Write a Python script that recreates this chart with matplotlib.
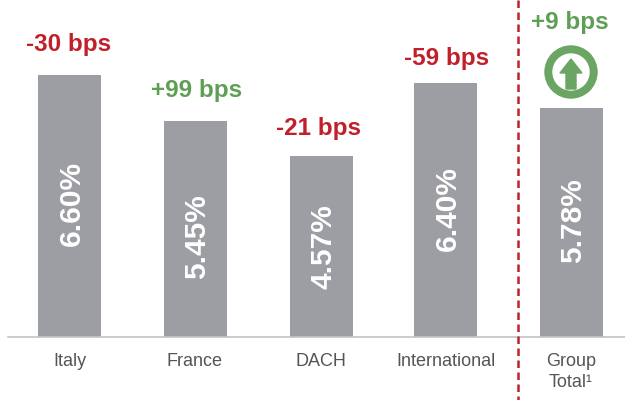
import matplotlib
matplotlib.use('Agg')
import matplotlib.pyplot as plt
from matplotlib.patches import Circle, Polygon

plt.rcParams['font.family'] = ['Liberation Sans', 'DejaVu Sans']

labels = ['Italy', 'France', 'DACH', 'International', 'Group\nTotal¹']
values = [6.60, 5.45, 4.57, 6.40, 5.78]
changes = ['-30 bps', '+99 bps', '-21 bps', '-59 bps', '+9 bps']
change_colors = ['#c0202a', '#5f9f55', '#c0202a', '#c0202a', '#5f9f55']

fig = plt.figure(figsize=(6.25, 4.0), dpi=100)

# ось столбцов: нижняя граница на y=337 пикселей, 6.60 доходит до y=75
ax = fig.add_axes([0, 63 / 400, 1, 337 / 400])
ax.set_xlim(0, 625)
ax.set_ylim(0, 337 * 6.60 / 262)
ax.axis('off')

x = [69.5, 195.5, 321, 445.5, 571.5]
ax.bar(x, values, width=63, color='#9d9ea3')

# поверх столбцов рисуем в пикселях картинки
ov = fig.add_axes([0, 0, 1, 1])
ov.set_xlim(0, 625)
ov.set_ylim(400, 0)
ov.axis('off')
ov.patch.set_alpha(0)

ov.plot([8, 625], [337, 337], color='#c4c4c6', lw=1.2)
ov.plot([518, 518], [0, 400], color='#c0202a', lw=1.8, linestyle=(0, (3, 1.8)))

num_shift = [-2, 8, 0, -1, -2]
chg_y = [44, 90, 128, 59, 23]
chg_x = [69, 197, 318, 447, 570]

for i in range(len(values)):
    top = 337 - values[i] * 262 / 6.60
    ov.text(x[i] + 2, (top + 337) / 2 + num_shift[i], '%.2f%%' % values[i], rotation=90,
            ha='center', va='center', color='white', fontsize=21.5, fontweight='bold')
    ov.text(chg_x[i], chg_y[i], changes[i], ha='center', va='center', fontsize=17.5,
            fontweight='bold', color=change_colors[i])

lab_x = [70, 195, 321, 446, 571]
for i in range(len(labels)):
    ov.text(lab_x[i], 353, labels[i], ha='center', va='top', fontsize=13,
            color='#555555', linespacing=1.3)

# значок со стрелкой
ov.add_patch(Circle((571, 72), 26, color='#6ba563'))
ov.add_patch(Circle((571, 72), 18, color='white'))
ov.add_patch(Polygon([(571, 59), (582, 73), (576, 73), (576, 89), (566, 89), (566, 73), (560, 73)],
                     color='#6ba563'))

fig.savefig('out.png', dpi=100)
